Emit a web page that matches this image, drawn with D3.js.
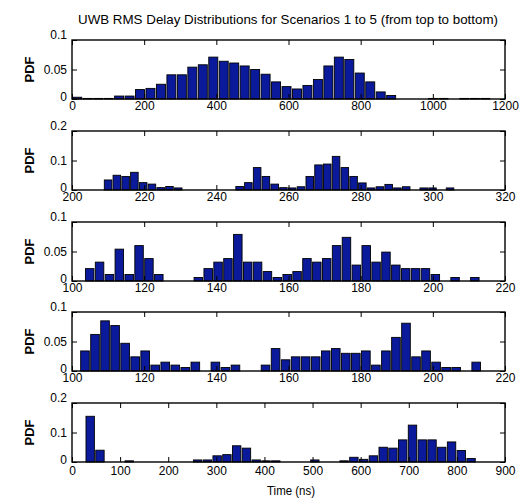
<!DOCTYPE html>
<html>
<head>
<meta charset="utf-8">
<script src="https://cdn.jsdelivr.net/npm/d3@7"></script>
<style>
body{margin:0;background:#fff;}
svg text{font-family:'Liberation Sans',Arial,Helvetica,sans-serif;fill:#000;}
</style>
</head>
<body>
<div id="chart"></div>
<script>
// ---- data ----
// x range and ticks of each scenario
const xDomains = [[0,1200],[200,320],[100,220],[100,220],[0,900]];
const xTicks1 = [0,200,400,600,800,1000,1200];
const xTicks2 = [200,220,240,260,280,300,320];
const xTicks3 = [100,120,140,160,180,200,220];
const xTicks4 = [100,120,140,160,180,200,220];
const xTicks5 = [0,100,200,300,400,500,600,700,800,900];
const yTicksSmall = [0,0.05,0.1];
const yTicksLarge = [0,0.1,0.2];

// histogram bins: centre of first bin, bin width (ns)
const binStart = [14.5, 210.0, 104.9, 103.6, 37.8];
const binWidth = [29.0, 2.43, 2.737, 2.78, 20.3];

// PDF per bin
const pdf1 = [0.003,0.001,0.001,0.001,0.005,0.005,0.016,0.018,0.025,0.041,
              0.041,0.054,0.058,0.071,0.064,0.061,0.056,0.050,0.042,0.029,
              0.021,0.017,0.023,0.033,0.056,0.071,0.067,0.044,0.029,0.012,
              0.006,0,0,0,0.001,0.001,0,0.001,0.001,0.001];
const pdf2 = [0.034,0.050,0.046,0.060,0.025,0.020,0.008,0.012,0.007,0,
              0,0,0,0,0,0.012,0.025,0.076,0.046,0.020,
              0.008,0.007,0.011,0.046,0.085,0.088,0.114,0.076,0.046,0.024,
              0.007,0.011,0.019,0.007,0.011,0,0.007,0.007,0,0.007];
const pdf3 = [0.021,0.032,0.011,0.054,0.011,0.060,0.038,0.011,0,0,
              0,0.006,0.021,0.032,0.038,0.079,0.032,0.032,0.016,0.006,
              0.011,0.016,0.038,0.032,0.038,0.060,0.074,0.027,0.060,0.032,
              0.049,0.027,0.021,0.021,0.021,0.011,0,0.006,0,0.006];
const pdf4 = [0.034,0.062,0.085,0.077,0.047,0.024,0.034,0.010,0.015,0.010,
              0.006,0.015,0,0.015,0.006,0.010,0,0,0.010,0.038,
              0.019,0.024,0.024,0.024,0.034,0.038,0.030,0.030,0.034,0.010,
              0.034,0.057,0.081,0.024,0.034,0.015,0.006,0.006,0,0.015];
const pdf5 = [0.155,0.040,0,0,0.004,0,0,0,0,0,
              0,0.007,0.007,0.021,0.025,0.055,0.047,0.007,0.004,0.004,
              0,0,0,0.007,0,0,0.004,0.016,0.009,0.021,
              0.050,0.047,0.075,0.125,0.075,0.075,0.050,0.068,0.039,0.012];

const titleText = 'UWB RMS Delay Distributions for Scenarios 1 to 5 (from top to bottom)';

/**
 * one histogram subplot (matlab style box, inward ticks)
 */
class HistPanel{
    svg; g; scaleX; scaleY;
    constructor(svg, top, left, width, height){
        this.svg = svg;
        this.top = top; this.left = left;
        this.width = width; this.height = height;
        this.g = svg.append('g')
            .attr('transform', `translate(${left},${top})`);
    }

    render(centers, values, bw, xDomain, xTicks, yTicks, labelPad){
        let yMax = yTicks[yTicks.length-1];
        this.scaleX = d3.scaleLinear(xDomain, [0, this.width]);
        this.scaleY = d3.scaleLinear([0, yMax], [this.height, 0]);
        let data = centers.map((c,i)=>[c, values[i]]);
        let half = bw*0.43;

        this.g.selectAll('rect.bar')
            .data(data)
            .join('rect')
            .classed('bar', true)
            .attr('x', d=>this.scaleX(d[0]-half))
            .attr('y', d=>this.scaleY(d[1]))
            .attr('width', d=>this.scaleX(d[0]+half)-this.scaleX(d[0]-half))
            .attr('height', d=>this.scaleY(0)-this.scaleY(d[1]))
            .attr('fill', '#0a1a9a')
            .attr('stroke', '#000')
            .attr('stroke-width', 0.9);

        // ticks on all four sides, pointing inward
        let ax = (gen, tx, ty)=>{
            let a = this.g.append('g').attr('transform', `translate(${tx},${ty})`).call(gen);
            a.select('.domain').remove();
            a.selectAll('line').attr('stroke', '#000');
            return a;
        };
        let bottom = ax(d3.axisBottom(this.scaleX).tickValues(xTicks).tickSize(-5)
            .tickPadding(labelPad).tickFormat(d=>String(d)), 0, this.height);
        bottom.selectAll('text').attr('font-size', 12).attr('font-family', null);
        ax(d3.axisTop(this.scaleX).tickValues(xTicks).tickSize(-5).tickFormat(''), 0, 0);
        let leftAx = ax(d3.axisLeft(this.scaleY).tickValues(yTicks).tickSize(-5)
            .tickPadding(5).tickFormat(d=>String(d)), 0, 0);
        leftAx.selectAll('text').attr('font-size', 12).attr('font-family', null)
            .attr('y', d=> d===yMax ? -5 : (d===0 ? -2.5 : 0));
        ax(d3.axisRight(this.scaleY).tickValues(yTicks).tickSize(-5).tickFormat(''), this.width, 0);

        this.g.append('rect')
            .attr('width', this.width).attr('height', this.height)
            .attr('fill', 'none').attr('stroke', '#000').attr('stroke-width', 1.4);

        this.svg.append('text')
            .attr('transform', `translate(29,${this.top+this.height/2})rotate(-90)`)
            .attr('text-anchor', 'middle').attr('dy', '0.35em')
            .attr('font-size', 13).attr('font-weight', 'bold')
            .text('PDF');
        return this;
    }
}

const W = 523, H = 504;
const svg = d3.select('#chart').append('svg').attr('width', W).attr('height', H);
svg.append('rect').attr('width', W).attr('height', H).attr('fill', '#fff');

const tops = [40, 131, 222, 312, 403];
const pdfs = [pdf1, pdf2, pdf3, pdf4, pdf5];
const xTicksAll = [xTicks1, xTicks2, xTicks3, xTicks4, xTicks5];
const yTicksAll = [yTicksSmall, yTicksLarge, yTicksSmall, yTicksSmall, yTicksLarge];

pdfs.forEach((vals, p)=>{
    let centers = vals.map((v,i)=>binStart[p] + i*binWidth[p]);
    new HistPanel(svg, tops[p], 72, 433, 59)
        .render(centers, vals, binWidth[p], xDomains[p], xTicksAll[p], yTicksAll[p], p===4 ? 4.5 : 2);
});

svg.append('text')
    .attr('x', 288).attr('y', 24)
    .attr('text-anchor', 'middle')
    .attr('font-size', 13.5)
    .attr('textLength', 420).attr('lengthAdjust', 'spacingAndGlyphs')
    .text(titleText);

svg.append('text')
    .attr('x', 291).attr('y', 495)
    .attr('text-anchor', 'middle')
    .attr('font-size', 13.5)
    .attr('textLength', 48).attr('lengthAdjust', 'spacingAndGlyphs')
    .text('Time (ns)');
</script>
</body>
</html>
